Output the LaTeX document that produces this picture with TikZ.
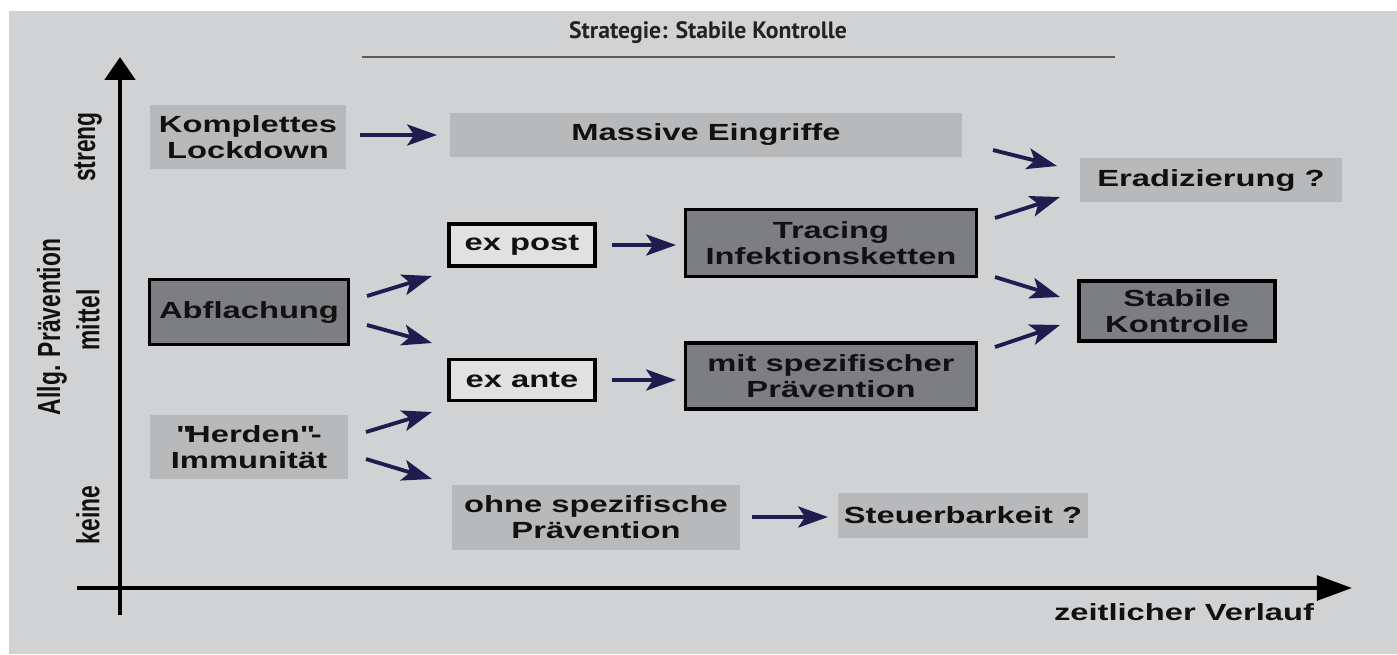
\documentclass[tikz,border=0pt]{standalone}
\usepackage{fontspec}
\usepackage{graphicx}
\setmainfont{Liberation Sans}[FakeStretch=1.4]
\newfontfamily\axfont{Liberation Sans}
\newfontfamily\titlefont{PT Sans}
\usetikzlibrary{arrows.meta}
\definecolor{bgc}{HTML}{D1D2D4}
\definecolor{lightbox}{HTML}{B8B9BB}
\definecolor{darkbox}{HTML}{7C7E82}
\definecolor{whitebox}{HTML}{E0E1E2}
\definecolor{arrowc}{HTML}{1F1D4F}
\definecolor{txt}{HTML}{111111}
\definecolor{titlec}{HTML}{222222}
\definecolor{rulec}{HTML}{5A5A5A}
\tikzset{
  boxtext/.style={font=\bfseries\fontsize{13.3}{14.5}\selectfont, text=txt, align=center, inner sep=0pt},
  lightnode/.style={boxtext, fill=lightbox},
  darknode/.style={boxtext, fill=darkbox, draw=black, line width=2pt},
  whitenode/.style={boxtext, fill=whitebox, draw=black, line width=2pt},
  flowarrow/.style={draw=arrowc, line width=2.2pt, -{Stealth[length=17pt,width=12pt,inset=4pt]}},
  axlabel/.style={font=\axfont\bfseries\fontsize{13}{14}\selectfont, text=txt, inner sep=0pt},
}
\begin{document}
\begin{tikzpicture}[x=0.02cm,y=-0.02cm]
\useasboundingbox (0,0) rectangle (1397,654);
\fill[white] (0,0) rectangle (1397,654);
\fill[bgc] (9,11) rectangle (1397,654);

% title
\node[font=\titlefont\bfseries\fontsize{13.5}{14}\selectfont, text=titlec, anchor=base, inner sep=0pt] (title) at (708,38) {Strategie: Stabile Kontrolle};
\coordinate (rl) at (362,57);
\coordinate (rr) at (1115,57);
\draw[rulec, line width=0.7pt] (rl) -- (rr);

% axes
\coordinate (yb) at (120,615);
\coordinate (yt) at (120,57);
\coordinate (xl) at (77,588);
\coordinate (xr) at (1352,588);
\draw[line width=2.8pt, -{Triangle[length=13pt,width=17pt]}] (yb) -- (yt);
\draw[line width=2.3pt, -{Triangle[length=20pt,width=14pt]}] (xl) -- (xr);

\node[boxtext] (zeit) at (1184,612) {zeitlicher Verlauf};
\node[axlabel] (streng) at (88,147) {\scalebox{1.4}[1]{\rotatebox{90}{streng}}};
\node[axlabel] (mittel) at (88,320) {\scalebox{1.4}[1]{\rotatebox{90}{mittel}}};
\node[axlabel] (keine) at (88,515) {\scalebox{1.4}[1]{\rotatebox{90}{keine}}};
\node[axlabel] (allg) at (52,327) {\scalebox{1.4}[1]{\rotatebox{90}{Allg. Prävention}}};

% boxes
\node[lightnode, minimum width=3.94cm, minimum height=1.28cm] (lock) at (248,137) {Komplettes\\Lockdown};
\node[lightnode, minimum width=10.24cm, minimum height=0.88cm] (mass) at (706,135) {Massive Eingriffe};
\node[lightnode, minimum width=5.26cm, minimum height=0.88cm] (erad) at (1211,180) {Eradizierung ?};
\node[whitenode, minimum width=2.92cm, minimum height=0.84cm] (expost) at (522,245) {ex post};
\node[darknode, minimum width=5.82cm, minimum height=1.34cm] (trac) at (831,243) {Tracing\\Infektionsketten};
\node[darknode, minimum width=3.98cm, minimum height=1.30cm] (abfl) at (249,312) {Abflachung};
\node[darknode, minimum width=3.92cm, minimum height=1.20cm] (stab) at (1177,311) {Stabile\\Kontrolle};
\node[whitenode, minimum width=2.92cm, minimum height=0.82cm] (exante) at (522,380) {ex ante};
\node[darknode, minimum width=5.82cm, minimum height=1.32cm] (mit) at (831,376) {mit spezifischer\\Prävention};
\node[lightnode, minimum width=3.96cm, minimum height=1.28cm] (herd) at (249,447) {\textquotedbl Herden\textquotedbl -\\Immunität};
\node[lightnode, minimum width=5.78cm, minimum height=1.30cm] (ohne) at (596,517) {ohne spezifische\\Prävention};
\node[lightnode, minimum width=5.00cm, minimum height=0.90cm] (steu) at (963,515) {Steuerbarkeit ?};

% arrow end points
\coordinate (a1s) at (360,135);  \coordinate (a1e) at (437,135);
\coordinate (a2s) at (993,150);  \coordinate (a2e) at (1057,166);
\coordinate (a3s) at (995,218);  \coordinate (a3e) at (1060,197);
\coordinate (a4s) at (995,277);  \coordinate (a4e) at (1060,297);
\coordinate (a5s) at (995,347);  \coordinate (a5e) at (1060,325);
\coordinate (a6s) at (612,245);  \coordinate (a6e) at (676,245);
\coordinate (a7s) at (612,380);  \coordinate (a7e) at (676,380);
\coordinate (a8s) at (367,296);  \coordinate (a8e) at (432,276);
\coordinate (a9s) at (367,325);  \coordinate (a9e) at (432,343);
\coordinate (a10s) at (366,432); \coordinate (a10e) at (432,412);
\coordinate (a11s) at (366,459); \coordinate (a11e) at (432,479);
\coordinate (a12s) at (752,517); \coordinate (a12e) at (828,517);

\foreach \i in {1,...,12} {
  \draw[flowarrow] (a\i s) -- (a\i e);
}
\end{tikzpicture}
\end{document}
